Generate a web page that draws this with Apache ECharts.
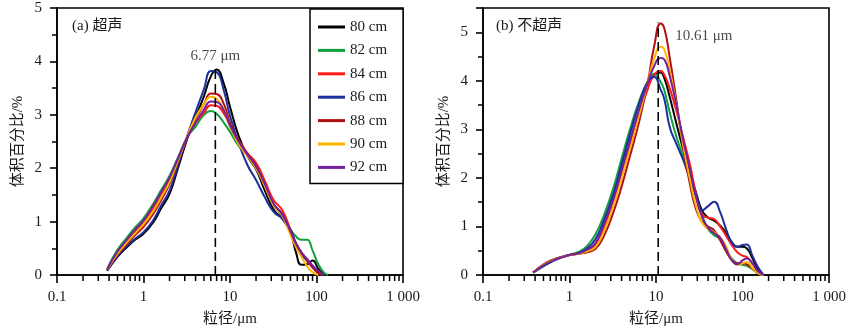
<!DOCTYPE html>
<html>
<head>
<meta charset="utf-8">
<script src="https://cdn.jsdelivr.net/npm/echarts@6/dist/echarts.min.js"></script>
<style>
  html, body { margin: 0; padding: 0; background: #fff; }
  #chart { width: 850px; height: 330px; }
</style>
</head>
<body>
<div id="chart"></div>
<script>
// Particle size (µm) sampling points for each panel
const sizesA = [0.38, 0.5, 0.65, 0.8, 1, 1.3, 1.6, 2, 2.5, 3.2, 4, 5, 6, 7, 8.5, 10, 12.6, 16, 20, 25, 32, 40, 50, 58, 67, 78, 90, 105, 120, 135];
const sizesB = [0.38, 0.5, 0.65, 0.8, 1, 1.3, 1.6, 2, 2.5, 3.2, 4, 5, 6.3, 8, 9.5, 11.3, 12.5, 14.4, 17.2, 20.5, 24.5, 29, 34, 40, 47, 55, 65, 75, 87, 100, 112, 130, 150, 175];

const depthNames = ['80 cm', '82 cm', '84 cm', '86 cm', '88 cm', '90 cm', '92 cm'];
const depthColors = ['#000000', '#12a03c', '#ff1a1a', '#1c2f9c', '#b0120f', '#ffb400', '#7420a0'];

// (a) 超声 — volume percentage (%)
const a80 = [0.08, 0.34, 0.53, 0.66, 0.77, 0.99, 1.25, 1.52, 2.0, 2.55, 2.95, 3.35, 3.72, 3.85, 3.58, 3.15, 2.6, 2.22, 1.98, 1.6, 1.22, 1.06, 0.8, 0.42, 0.19, 0.2, 0.27, 0.12, 0.01, null];
const a82 = [0.12, 0.47, 0.71, 0.89, 1.06, 1.34, 1.59, 1.86, 2.2, 2.58, 2.78, 3.0, 3.07, 3.02, 2.85, 2.68, 2.42, 2.25, 2.02, 1.7, 1.3, 1.12, 0.86, 0.72, 0.66, 0.66, 0.46, 0.2, 0.06, 0];
const a84 = [0.1, 0.42, 0.64, 0.81, 0.98, 1.25, 1.5, 1.78, 2.15, 2.57, 2.85, 3.04, 3.18, 3.17, 3.02, 2.8, 2.52, 2.28, 2.1, 1.78, 1.4, 1.22, 0.85, 0.6, 0.42, 0.26, 0.14, 0.02, null, null];
const a86 = [0.08, 0.35, 0.55, 0.68, 0.8, 1.03, 1.3, 1.58, 2.05, 2.6, 3.05, 3.48, 3.82, 3.8, 3.45, 2.98, 2.47, 2.05, 1.78, 1.47, 1.18, 1.06, 0.84, 0.58, 0.38, 0.27, 0.15, 0.04, 0, null];
const a88 = [0.1, 0.38, 0.59, 0.75, 0.9, 1.15, 1.4, 1.7, 2.12, 2.58, 2.92, 3.2, 3.4, 3.39, 3.2, 2.85, 2.5, 2.26, 2.05, 1.7, 1.32, 1.15, 0.82, 0.58, 0.42, 0.28, 0.16, 0.04, 0, null];
const a90 = [0.1, 0.4, 0.62, 0.78, 0.95, 1.2, 1.45, 1.74, 2.14, 2.6, 2.95, 3.2, 3.34, 3.3, 3.1, 2.78, 2.45, 2.22, 2.0, 1.68, 1.3, 1.12, 0.75, 0.52, 0.34, 0.16, 0.05, 0, null, null];
const a92 = [0.1, 0.44, 0.67, 0.85, 1.02, 1.3, 1.55, 1.82, 2.18, 2.58, 2.85, 3.1, 3.25, 3.24, 3.08, 2.8, 2.5, 2.25, 2.03, 1.72, 1.33, 1.14, 0.82, 0.58, 0.42, 0.3, 0.18, 0.08, 0, null];

// (b) 不超声 — volume percentage (%)
const b80 = [0.05, 0.2, 0.3, 0.36, 0.41, 0.45, 0.51, 0.64, 1.0, 1.55, 2.15, 2.75, 3.34, 3.88, 4.12, 4.17, 4.05, 3.67, 3.12, 2.6, 2.1, 1.7, 1.33, 1.18, 1.12, 1.02, 0.86, 0.68, 0.58, 0.58, 0.55, 0.35, 0.12, 0];
const b82 = [0.05, 0.18, 0.29, 0.36, 0.42, 0.48, 0.6, 0.84, 1.23, 1.78, 2.4, 3.0, 3.55, 3.98, 4.14, 3.98, 3.8, 3.35, 2.85, 2.45, 2.02, 1.6, 1.25, 0.95, 0.82, 0.74, 0.52, 0.34, 0.24, 0.21, 0.19, 0.12, 0.03, null];
const b84 = [0.05, 0.2, 0.3, 0.36, 0.41, 0.45, 0.5, 0.61, 0.96, 1.5, 2.08, 2.68, 3.28, 3.82, 4.12, 4.2, 4.12, 3.85, 3.38, 2.85, 2.3, 1.68, 1.25, 1.18, 1.15, 1.0, 0.8, 0.62, 0.47, 0.4, 0.37, 0.25, 0.08, 0];
const b86 = [0.05, 0.19, 0.29, 0.36, 0.41, 0.46, 0.55, 0.74, 1.13, 1.66, 2.28, 2.9, 3.5, 3.98, 4.08, 3.82, 3.62, 3.05, 2.7, 2.38, 2.0, 1.65, 1.33, 1.42, 1.51, 1.3, 0.93, 0.67, 0.58, 0.62, 0.63, 0.4, 0.17, 0];
const b88 = [0.05, 0.22, 0.32, 0.37, 0.41, 0.44, 0.47, 0.54, 0.8, 1.28, 1.82, 2.45, 3.12, 3.95, 4.7, 5.18, 5.08, 4.48, 3.6, 2.65, 1.9, 1.35, 1.1, 1.0, 0.92, 0.72, 0.48, 0.32, 0.24, 0.24, 0.22, 0.14, 0.04, 0];
const b90 = [0.05, 0.21, 0.31, 0.36, 0.41, 0.44, 0.49, 0.58, 0.9, 1.42, 2.0, 2.6, 3.25, 3.95, 4.45, 4.7, 4.64, 4.22, 3.5, 2.7, 2.0, 1.42, 1.08, 0.95, 0.88, 0.78, 0.58, 0.32, 0.21, 0.24, 0.27, 0.15, 0.04, 0];
const b92 = [0.05, 0.2, 0.3, 0.36, 0.41, 0.45, 0.52, 0.66, 1.04, 1.55, 2.15, 2.75, 3.38, 3.95, 4.3, 4.47, 4.44, 4.1, 3.5, 2.8, 2.2, 1.62, 1.2, 0.97, 0.86, 0.77, 0.52, 0.3, 0.22, 0.3, 0.34, 0.24, 0.08, 0];

// Modal particle size marker: [size µm, height %]
const modeA = [6.77, 3.85];
const modeB = [10.61, 5.2];

const xTickValues = [0.1, 1, 10, 100, 1000];
const xTickLabels = ['0.1', '1', '10', '100', '1 000'];
const minorMultipliers = [2, 3, 4, 5, 6, 7, 8, 9];
const panelTitles = ['(a) 超声', '(b) 不超声'];

const seriesA = [a80, a82, a84, a86, a88, a90, a92];
const seriesB = [b80, b82, b84, b86, b88, b90, b92];

const FONT = "'Liberation Serif', 'Times New Roman', 'Noto Sans CJK SC', serif";
const TEXT = '#1a1a1a';

// minor tick sizes of the log axes: k·10^n inside each decade
const minorTickSizes = [];
xTickValues.slice(0, -1).forEach(d => minorMultipliers.forEach(k => minorTickSizes.push(+(d * k).toPrecision(3))));

function pairs(sizes, vals) {
  const out = [];
  sizes.forEach((s, i) => { if (vals[i] !== null) out.push([s, vals[i]]); });
  return out;
}

const grids = [
  { left: 57, top: 8, width: 346, height: 267 },
  { left: 483, top: 8, width: 346, height: 267 }
];

const xAxes = [];
const yAxes = [];
[0, 1].forEach(g => {
  xAxes.push({
    gridIndex: g, type: 'log', logBase: 10, min: 0.1, max: 1000,
    axisLine: { onZero: false, lineStyle: { color: '#000', width: 1.6 } },
    axisTick: { inside: false, length: 8, lineStyle: { color: '#000', width: 1.6 } },
    axisLabel: {
      fontFamily: FONT, fontSize: 15, color: TEXT, margin: 15,
      formatter: v => {
        const i = xTickValues.findIndex(t => Math.abs(t - v) / t < 1e-6);
        return i >= 0 ? xTickLabels[i] : '';
      }
    },
    splitLine: { show: false },
    name: '粒径/μm', nameLocation: 'middle', nameGap: 37,
    nameTextStyle: { fontFamily: FONT, fontSize: 15, color: TEXT }
  });
  yAxes.push({
    gridIndex: g, type: 'value', min: 0, max: g === 0 ? 5 : 5.5, interval: 1,
    axisLine: { show: true, onZero: false, lineStyle: { color: '#000', width: 1.6 } },
    axisTick: { show: true, inside: false, length: 7, lineStyle: { color: '#000', width: 1.6 } },
    minorTick: { show: true, splitNumber: 2, length: 5, lineStyle: { color: '#000', width: 1.5 } },
    axisLabel: {
      fontFamily: FONT, fontSize: 15, color: TEXT, margin: 15,
      formatter: v => (Number.isInteger(v) ? String(v) : '')
    },
    splitLine: { show: false },
    name: '体积百分比/%', nameLocation: 'middle', nameGap: 31,
    nameTextStyle: { fontFamily: FONT, fontSize: 15, color: TEXT }
  });
});

const series = [];
depthNames.forEach((name, i) => {
  series.push({
    name, type: 'line', xAxisIndex: 0, yAxisIndex: 0,
    data: pairs(sizesA, seriesA[i]),
    smooth: 0.5, symbol: 'none',
    lineStyle: { color: depthColors[i], width: 2 }, itemStyle: { color: depthColors[i] },
    z: 3
  });
  series.push({
    name, type: 'line', xAxisIndex: 1, yAxisIndex: 1,
    data: pairs(sizesB, seriesB[i]),
    smooth: 0.5, symbol: 'none',
    lineStyle: { color: depthColors[i], width: 2 }, itemStyle: { color: depthColors[i] },
    z: 3
  });
});

// dashed modal-size markers with their value labels
[[modeA, 0, 'top', [0, 0]], [modeB, 1, 'right', [0, 13]]].forEach(([m, ai, pos, off]) => {
  series.push({
    type: 'line', xAxisIndex: ai, yAxisIndex: ai, silent: true,
    data: [[m[0], 0], [m[0], m[1]]], symbol: 'none',
    lineStyle: { color: '#000', width: 1.6, type: [9, 5] }, z: 4
  });
  series.push({
    type: 'scatter', xAxisIndex: ai, yAxisIndex: ai, silent: true,
    data: [m], symbolSize: 0,
    label: {
      show: true, position: pos, distance: pos === 'top' ? 6 : 17, offset: off,
      formatter: () => m[0] + ' μm',
      fontFamily: FONT, fontSize: 15, color: TEXT
    }, z: 5
  });
});

const chart = echarts.init(document.getElementById('chart'), null, { renderer: 'canvas' });
chart.setOption({
  animation: false,
  backgroundColor: '#fff',
  grid: grids.map(g => Object.assign({
    show: true, borderColor: '#000', borderWidth: 1.6, backgroundColor: 'transparent',
    containLabel: false, outerBoundsMode: 'none'
  }, g)),
  xAxis: xAxes,
  yAxis: yAxes,
  title: [
    { text: panelTitles[0], left: 72, top: 19, padding: 0, textStyle: { fontFamily: FONT, fontSize: 15, fontWeight: 'normal', color: TEXT } },
    { text: panelTitles[1], left: 496, top: 19, padding: 0, textStyle: { fontFamily: FONT, fontSize: 15, fontWeight: 'normal', color: TEXT } }
  ],
  legend: {
    data: depthNames, orient: 'vertical', left: 310, top: 9,
    icon: 'rect', itemWidth: 27, itemHeight: 3, itemGap: 7.4,
    padding: [10, 16, 8, 8],
    backgroundColor: '#fff', borderColor: '#000', borderWidth: 1.5, borderRadius: 0,
    textStyle: { fontFamily: FONT, fontSize: 15, color: TEXT, lineHeight: 16 },
    selectedMode: false
  },
  series
});

// minor ticks under each log axis, positioned through the axis scale
const minorTickGraphics = [];
[0, 1].forEach(g => {
  minorTickSizes.forEach(s => {
    const p = chart.convertToPixel({ xAxisIndex: g, yAxisIndex: g }, [s, 0]);
    if (p && isFinite(p[0])) {
      minorTickGraphics.push({
        type: 'line', silent: true, z: 10,
        shape: { x1: p[0], y1: p[1], x2: p[0], y2: p[1] + 6 },
        style: { stroke: '#000', lineWidth: 1.5 }
      });
    }
  });
});
chart.setOption({ graphic: { elements: minorTickGraphics } });
</script>
</body>
</html>
